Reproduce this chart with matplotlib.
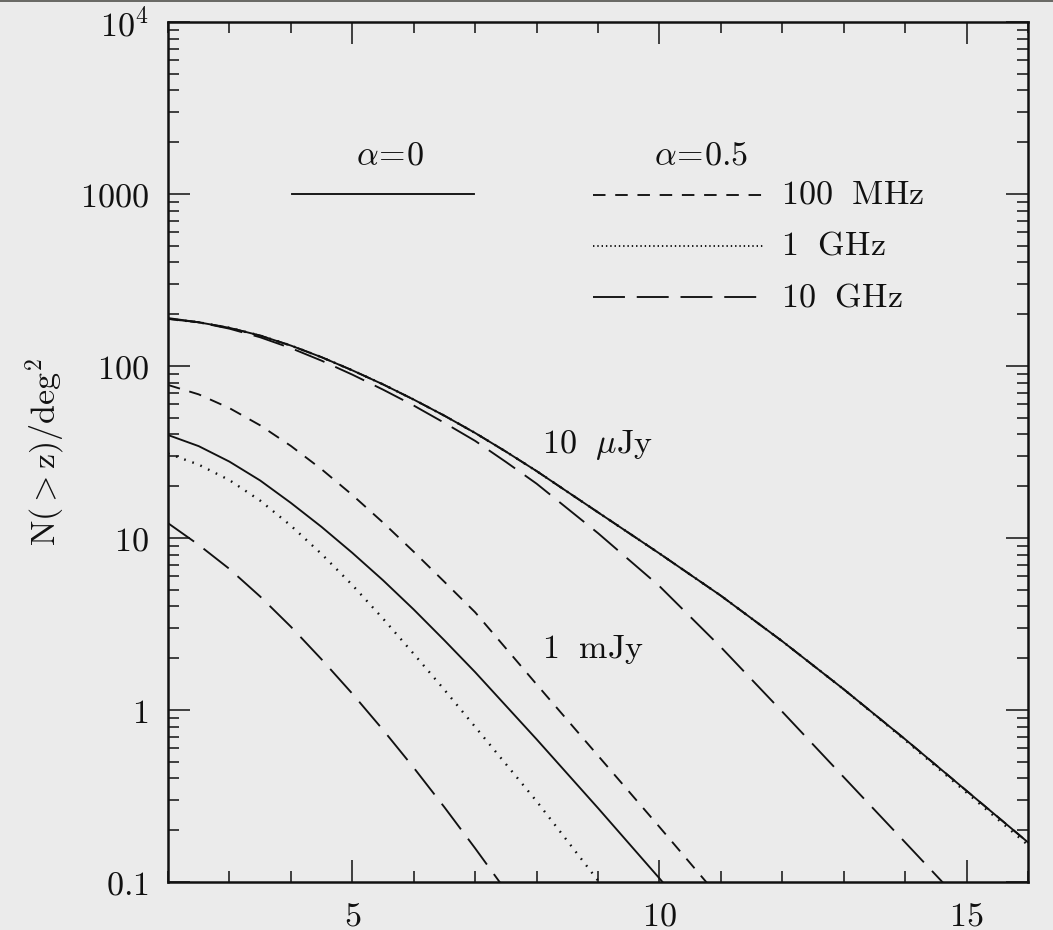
import matplotlib
matplotlib.use("Agg")
import matplotlib.pyplot as plt
from matplotlib.ticker import FixedLocator, NullFormatter
from matplotlib.patches import Rectangle

plt.rcParams['mathtext.fontset'] = 'cm'
plt.rcParams['font.family'] = ['DejaVu Serif']
plt.rcParams['lines.scale_dashes'] = False

BG = '#ebebeb'
INK = '#111111'

# ---------------- data ----------------
# 10 microJy, alpha = 0 (solid); the 100 MHz and 1 GHz alpha=0.5 curves lie on top of it
z_10uJy = [2, 2.5, 3, 3.5, 4, 4.5, 5, 5.5, 6, 6.5, 7, 7.5, 8, 9, 10, 11, 12, 13, 14, 15, 16]
n_10uJy_a0 = [188, 179.5, 166.7, 150.3, 131.5, 112.5, 94.4, 78.2, 63.8, 51.4, 40.8, 31.8,
              24.5, 14.1, 8.13, 4.62, 2.51, 1.32, 0.676, 0.339, 0.170]
n_10uJy_100MHz = [188, 179.5, 166.7, 150.3, 131.5, 112.5, 94.4, 78.2, 63.8, 51.4, 40.8, 31.8,
                  24.5, 14.1, 8.13, 4.62, 2.51, 1.32, 0.676, 0.339, 0.170]
n_10uJy_1GHz = [188, 179.5, 166.7, 150.3, 131.5, 112.5, 94.4, 78.2, 63.8, 51.4, 40.8, 31.8,
                24.5, 14.1, 8.13, 4.62, 2.51, 1.32, 0.668, 0.331, 0.164]
z_10uJy_10GHz = [2, 2.5, 3, 3.5, 4, 4.5, 5, 5.5, 6, 6.5, 7, 7.5, 8, 9, 10, 11, 12, 13, 14, 15]
n_10uJy_10GHz = [190, 179.5, 164.8, 146.9, 127.1, 107.4, 89.1, 72.9, 58.9, 46.7, 36.7, 27.7,
                 20.7, 10.67, 5.25, 2.32, 0.977, 0.407, 0.170, 0.0708]

# 1 mJy
z_1mJy_100MHz = [2, 2.5, 3, 3.5, 4, 4.5, 5, 5.5, 6, 6.5, 7, 8, 9, 10, 11]
n_1mJy_100MHz = [77.6, 68.4, 56.9, 45.2, 34.3, 25.1, 17.8, 12.3, 8.32, 5.56, 3.70,
                 1.41, 0.543, 0.209, 0.0794]
z_1mJy_a0 = [2, 2.5, 3, 3.5, 4, 4.5, 5, 5.5, 6, 6.5, 7, 8, 9, 10, 10.5]
n_1mJy_a0 = [39.7, 34.2, 27.8, 21.6, 16.0, 11.6, 8.20, 5.68, 3.84, 2.54, 1.66,
             0.676, 0.269, 0.105, 0.0646]
z_1mJy_1GHz = [2, 2.5, 3, 3.5, 4, 4.5, 5, 5.5, 6, 6.5, 7, 8, 9, 9.5]
n_1mJy_1GHz = [31.0, 26.7, 21.7, 16.5, 11.8, 8.07, 5.33, 3.40, 2.12, 1.31, 0.798,
               0.295, 0.102, 0.0603]
z_1mJy_10GHz = [2, 2.5, 3, 3.5, 4, 4.5, 5, 5.5, 6, 6.5, 7, 7.5, 8]
n_1mJy_10GHz = [12.2, 9.12, 6.61, 4.57, 3.05, 1.97, 1.245, 0.767, 0.462, 0.272, 0.157,
                0.0891, 0.0507]

xtick_vals = [5, 10, 15]
xtick_labels = [r'$\mathrm{5}$', r'$\mathrm{10}$', r'$\mathrm{15}$']
ytick_vals = [0.1, 1, 10, 100, 1000, 10000]
ytick_labels = [r'$\mathrm{0.1}$', r'$\mathrm{1}$', r'$\mathrm{10}$', r'$\mathrm{100}$',
                r'$\mathrm{1000}$', r'$\mathrm{10^4}$']

legend_labels = [r'$\mathrm{100\ \ MHz}$', r'$\mathrm{1\ \ GHz}$', r'$\mathrm{10\ \ GHz}$']

# ---------------- styles ----------------
SOLID = '-'
SHORT = (0, (9.0, 7.0))
DOT = (0, (1.2, 5.0))
DOT_LEG = (0, (1.0, 2.1))
LONG = (0, (23.0, 8.5))
LW = 1.35
FS = 24.5

fig = plt.figure(figsize=(10.53, 9.30), dpi=100, facecolor=BG)
fig.add_artist(Rectangle((0, 1 - 2.5 / 930), 1, 2.5 / 930, transform=fig.transFigure,
                         facecolor='#6a6a66', edgecolor='none'))
ax = fig.add_axes([168 / 1053, 48 / 930, 860 / 1053, 860 / 930], facecolor=BG)

curves = [
    (z_10uJy, n_10uJy_100MHz, SHORT, LW),
    (z_10uJy, n_10uJy_1GHz, DOT, 1.7),
    (z_10uJy_10GHz, n_10uJy_10GHz, LONG, LW),
    (z_10uJy, n_10uJy_a0, SOLID, LW),
    (z_1mJy_100MHz, n_1mJy_100MHz, SHORT, LW),
    (z_1mJy_a0, n_1mJy_a0, SOLID, LW),
    (z_1mJy_1GHz, n_1mJy_1GHz, DOT, 1.7),
    (z_1mJy_10GHz, n_1mJy_10GHz, LONG, LW),
]
for zz, nn, ls, lw in curves:
    ax.plot(zz, nn, color=INK, lw=lw, linestyle=ls, dash_capstyle='butt')

ax.set_yscale('log')
ax.set_xlim(2, 16)
ax.set_ylim(0.1, 1e4)

ax.set_xticks(xtick_vals, labels=xtick_labels)
ax.xaxis.set_minor_locator(FixedLocator(range(2, 17)))
ax.set_yticks(ytick_vals, labels=ytick_labels)
minor_y = [m * 10.0 ** e for e in range(-1, 4) for m in range(2, 10)]
ax.yaxis.set_minor_locator(FixedLocator(minor_y))
ax.yaxis.set_minor_formatter(NullFormatter())
ax.xaxis.set_minor_formatter(NullFormatter())

ax.tick_params(which='both', direction='in', top=True, right=True, colors=INK,
               width=1.1, labelsize=FS)
ax.tick_params(which='major', length=16)
ax.tick_params(which='minor', length=8)
ax.tick_params(axis='x', which='major', pad=13)
ax.tick_params(axis='y', which='major', pad=14)
for sp in ax.spines.values():
    sp.set_linewidth(1.8)
    sp.set_color(INK)

ax.set_ylabel(r'$\mathrm{N({>}z)/deg^2}$', fontsize=FS, color=INK, labelpad=9)

# ---------------- key ----------------
tA = ax.transAxes
ax.text(0.258, 0.845, r'$\alpha\!=\!0$', transform=tA, fontsize=FS, ha='center',
        va='center', color=INK)
ax.plot([0.144, 0.356], [0.80, 0.80], transform=tA, color=INK, lw=LW, ls=SOLID)
ax.text(0.62, 0.845, r'$\alpha\!=\!0.5$', transform=tA, fontsize=FS, ha='center',
        va='center', color=INK)
key_y = [0.799, 0.740, 0.680]
key_x_end = [0.698, 0.692, 0.686]
key_styles = [SHORT, DOT_LEG, LONG]
for ky, kx, ks, lab in zip(key_y, key_x_end, key_styles, legend_labels):
    ax.plot([0.494, kx], [ky, ky], transform=tA, color=INK, lw=LW, ls=ks,
            dash_capstyle='butt')
    ax.text(0.713, ky, lab, transform=tA, fontsize=FS, ha='left', va='center',
            color=INK)

ax.text(0.435, 0.508, r'$\mathrm{10\ \ \mu Jy}$', transform=tA, fontsize=FS,
        ha='left', va='center', color=INK)
ax.text(0.435, 0.270, r'$\mathrm{1\ \ mJy}$', transform=tA, fontsize=FS,
        ha='left', va='center', color=INK)

fig.savefig('out.png', dpi=100, facecolor=BG)
